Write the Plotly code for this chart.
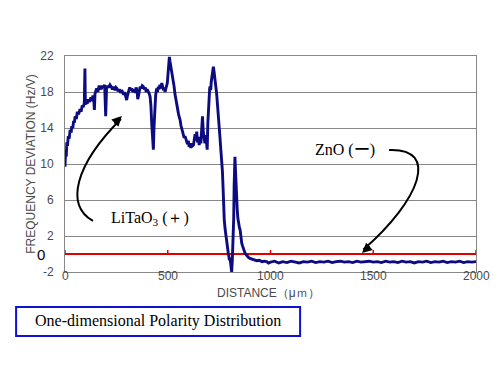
import plotly.graph_objects as go

# ---- data ----
distance = [0, 3, 6, 9, 12, 16, 20, 25, 30, 33, 38, 42, 46, 49, 55, 60, 66, 73, 78, 84, 89, 94, 97, 99,
            103, 108, 113, 118, 122, 126, 131, 136, 140, 143, 146, 150, 154, 160, 165, 170, 176, 182, 188,
            193, 198, 202, 207, 212, 219, 225, 231, 237, 243, 248, 252, 258, 264, 270, 276, 280, 285, 290,
            296, 300, 304, 310, 315, 320, 325, 330, 336, 341, 346, 351, 354, 357, 361, 366, 371, 376, 381,
            386, 391, 395, 400, 405, 410, 414, 418, 422, 426, 430, 433, 437, 441, 446, 450, 454, 458, 462,
            466, 471, 475, 479, 483, 487, 491, 494, 498, 502, 505, 508, 511, 514, 517, 519, 523, 527, 531,
            535, 539, 543, 548, 552, 556, 560, 564, 568, 572, 576, 580, 584, 588, 592, 596, 600, 604, 608,
            612, 616, 620, 625, 629, 633, 637, 641, 645, 649, 653, 657, 661, 665, 669, 673, 677, 681, 685,
            688, 692, 695, 698, 701, 704, 706, 709, 712, 715, 718, 720, 722, 725, 728, 730, 733, 736, 738,
            741, 744, 746, 749, 752, 754, 757, 760, 763, 766, 769, 771, 775, 779, 783, 787, 790, 794, 797,
            800, 803, 806, 809, 811, 814, 817, 819, 821, 823, 825, 827, 829, 831, 833, 836, 838, 841, 844,
            846, 849, 852, 855, 858, 860, 864, 868, 872, 876, 882, 888, 894, 900, 910, 920, 933, 945, 958,
            970, 981, 990, 1000, 1020, 1040, 1060, 1080, 1100, 1120, 1140, 1160, 1180, 1200, 1220, 1240,
            1260, 1280, 1300, 1320, 1340, 1360, 1380, 1400, 1420, 1440, 1460, 1480, 1500, 1520, 1540, 1560,
            1580, 1600, 1620, 1640, 1660, 1680, 1700, 1720, 1740, 1760, 1780, 1800, 1820, 1840, 1860, 1880,
            1900, 1920, 1940, 1960, 1980, 2000]
deviation = [9.7, 11.5, 10.8, 12.4, 12.0, 13.1, 12.8, 13.8, 13.5, 14.2, 14.0, 14.8, 14.6, 15.3, 15.0, 15.8,
             15.5, 16.1, 15.8, 16.5, 16.3, 16.8, 20.6, 16.6, 16.9, 16.7, 17.2, 16.9, 17.1, 17.4, 17.0, 17.6,
             17.2, 16.0, 17.8, 18.2, 18.4, 18.0, 18.6, 18.6, 18.3, 18.7, 18.5, 18.8, 15.3, 18.4, 18.7, 18.5,
             18.8, 18.6, 18.3, 18.6, 18.2, 18.5, 18.4, 18.1, 18.3, 17.9, 18.2, 18.0, 17.7, 18.0, 17.5, 17.1,
             17.6, 18.1, 18.5, 18.2, 18.4, 18.0, 18.3, 17.9, 18.5, 18.1, 17.2, 17.5, 18.2, 18.6, 18.4, 18.7,
             18.6, 18.3, 18.5, 18.0, 18.3, 18.1, 17.8, 17.5, 16.5, 14.5, 12.5, 11.6, 14.0, 16.8, 17.6, 18.4,
             18.0, 18.6, 18.3, 18.8, 18.4, 19.0, 18.6, 18.2, 18.5, 18.0, 18.4, 18.8, 19.0, 20.2, 21.2, 21.9,
             21.4, 21.0, 20.8, 20.4, 20.0, 19.3, 18.6, 17.8, 17.2, 16.7, 16.2, 15.6, 15.2, 14.9, 14.3, 13.9,
             13.6, 13.4, 12.9, 13.1, 12.7, 12.5, 12.2, 12.6, 11.9, 12.2, 11.8, 12.3, 12.0, 12.1, 12.8, 13.3,
             12.6, 13.6, 12.4, 12.9, 12.1, 13.0, 12.3, 14.2, 15.3, 13.5, 12.5, 12.3, 13.2, 12.0, 11.6, 14.5,
             16.5, 17.8, 18.4, 18.6, 18.2, 19.2, 19.6, 20.2, 20.6, 20.8, 20.3, 19.5, 19.7, 18.8, 18.2, 17.8,
             17.0, 16.2, 16.0, 14.6, 13.5, 13.0, 12.0, 11.2, 10.4, 9.2, 7.5, 4.9, 3.8, 2.8, 1.9, 1.2, 0.8,
             0.2, -0.2, -0.7, -0.4, -1.0, -1.6, -2.0, -0.8, 0.8, 1.9, 4.0, 7.5, 9.5, 10.8, 9.6, 8.0, 7.0, 6.4,
             5.0, 4.0, 3.4, 3.7, 2.9, 2.7, 2.0, 1.6, 1.2, 0.9, 0.6, 0.3, 0.1, -0.1, -0.3, -0.4, -0.5, -0.6,
             -0.7, -0.75, -0.7, -0.85, -0.8, -0.85, -1.0, -0.9, -0.8, -1.0, -0.85, -0.95, -0.8, -0.9, -1.0,
             -0.85, -0.9, -0.8, -0.95, -0.85, -0.9, -0.8, -0.95, -0.85, -0.8, -0.9, -0.85, -0.95, -0.8, -0.9,
             -0.85, -0.8, -0.9, -0.85, -0.95, -0.8, -0.9, -0.85, -0.95, -0.8, -0.9, -0.85, -1.0, -0.85, -0.9,
             -0.8, -0.95, -0.85, -0.9, -0.8, -0.95, -0.85, -0.9, -0.8, -0.95, -0.85, -0.9, -0.85]

baseline_x = [0, 2000]
baseline_y = [0, 0]
x_ticks = [0, 500, 1000, 1500, 2000]
x_labels = ["0", "500", "1000", "1500", "2000"]
y_ticks = [-2, 2, 6, 10, 14, 18, 22]
y_labels = ["-2", "2", "6", "10", "14", "18", "22"]

fig = go.Figure()

# red reference line at zero with little upward ticks
fig.add_trace(go.Scatter(x=baseline_x, y=baseline_y, mode="lines",
                         line=dict(color="#e00000", width=2.2), hoverinfo="skip"))
tick_x, tick_y = [], []
for t in x_ticks:
    tick_x += [t, t, None]
    tick_y += [0, 0.45, None]
fig.add_trace(go.Scatter(x=tick_x, y=tick_y, mode="lines",
                         line=dict(color="#e00000", width=1.5), hoverinfo="skip"))

fig.add_trace(go.Scatter(x=distance, y=deviation, mode="lines",
                         line=dict(color="#0c0c80", width=2.9), hoverinfo="skip"))

axis_font = dict(family="Liberation Sans, Arial", size=12, color="#4a4a4a")

fig.update_layout(
    width=492, height=367,
    margin=dict(l=57, r=24, t=48, b=103),
    paper_bgcolor="white", plot_bgcolor="white",
    showlegend=False,
    xaxis=dict(range=[0, 2000], tickvals=x_ticks, ticks="", showgrid=False,
               showline=True, linecolor="#888888", linewidth=1, mirror=True,
               zeroline=False, showticklabels=False),
    yaxis=dict(range=[-2, 22], tickvals=y_ticks, ticktext=y_labels, ticks="",
               showgrid=True, gridcolor="#888888", gridwidth=1,
               showline=True, linecolor="#888888", linewidth=1, mirror=True,
               zeroline=False, tickfont=axis_font, ticklabelstandoff=8,
               title=dict(text="FREQUENCY DEVIATION (Hz/V)", font=axis_font, standoff=2)),
)

# x tick labels sitting right on the axis line, as in the reference
for t, lab in zip(x_ticks, x_labels):
    fig.add_annotation(x=t, y=-2, xref="x", yref="y", text=lab, showarrow=False,
                       xanchor="center", yanchor="middle", yshift=-4, font=axis_font)
fig.add_annotation(x=0.494, y=-0.097, xref="paper", yref="paper", text="DISTANCE（μｍ）",
                   showarrow=False, xanchor="center", yanchor="middle", font=axis_font)

serif = dict(family="Liberation Serif, Times New Roman", size=16, color="black")

# "0" label beside the red line
fig.add_annotation(x=0, y=0, xref="x", yref="y", text="0", showarrow=False,
                   xanchor="right", yanchor="middle", xshift=-18,
                   font=dict(family="Liberation Sans", size=15, color="black"))

fig.add_annotation(x=1363, y=11.6, text="ZnO (ー)", showarrow=False,
                   xanchor="center", yanchor="middle", font=serif)
fig.add_annotation(x=414, y=4.0, text="LiTaO<sub>3</sub> (＋)", showarrow=False,
                   xanchor="center", yanchor="middle", font=serif)

# curved arrows
fig.add_shape(type="path", xref="x", yref="y",
              path="M 136,3.67 C 0,5.44 48.7,9.89 272,15.0",
              line=dict(color="black", width=2))
fig.add_annotation(x=277, y=15.33, ax=-9, ay=9, xref="x", yref="y", text="",
                   showarrow=True, arrowhead=2, arrowsize=1, arrowwidth=2, arrowcolor="black")
fig.add_shape(type="path", xref="x", yref="y",
              path="M 1577,11.56 C 1825,11.78 1727.5,6.0 1452,0.5",
              line=dict(color="black", width=2))
fig.add_annotation(x=1445, y=0.11, ax=9, ay=-8, xref="x", yref="y", text="",
                   showarrow=True, arrowhead=2, arrowsize=1, arrowwidth=2, arrowcolor="black")

# caption box
fig.add_shape(type="rect", xref="paper", yref="paper",
              x0=-0.119, x1=0.572, y0=-0.162, y1=-0.296,
              line=dict(color="#1010d0", width=2), fillcolor="white")
fig.add_annotation(x=0.226, y=-0.229, xref="paper", yref="paper",
                   text="One-dimensional Polarity Distribution", showarrow=False,
                   xanchor="center", yanchor="middle",
                   font=dict(family="Liberation Serif, Times New Roman", size=16, color="black"))

fig.write_html("out.html")
